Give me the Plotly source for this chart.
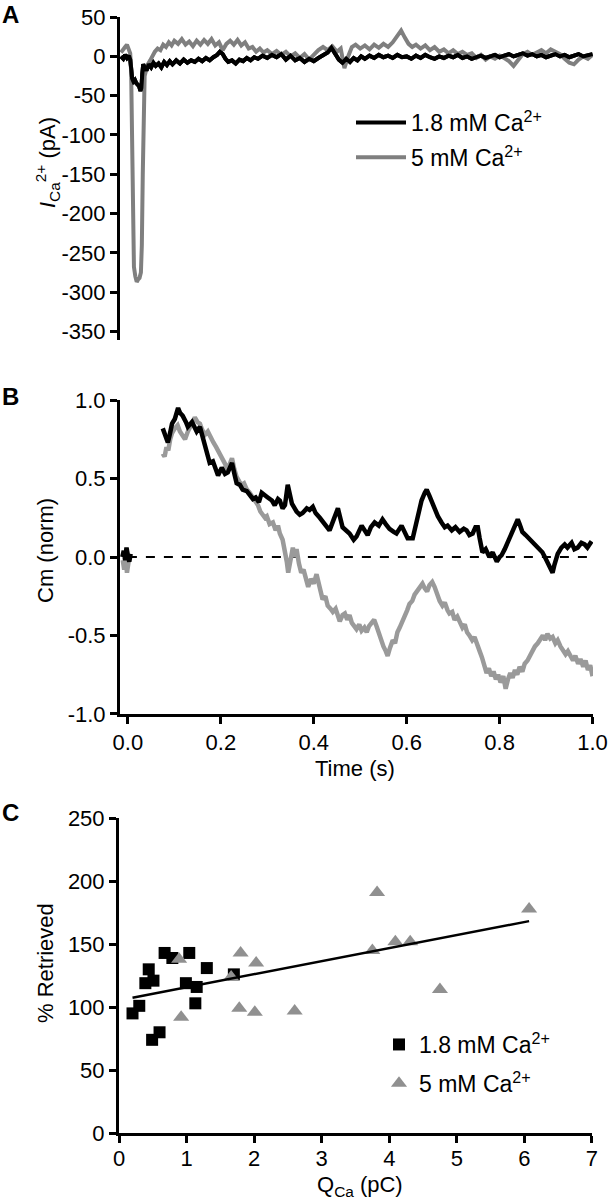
import plotly.graph_objects as go

# ---------------- Panel A data (time s, current pA) ----------------
a_gray_t = [-0.015,-0.010,-0.006,-0.002,0.002,0.005,0.007,0.009,0.011,0.013,0.016,0.019,0.022,0.025,0.028,0.030,0.032,0.034,0.036,0.039,0.043,0.048,0.053,0.058,0.064,0.070,0.076,0.082,0.088,0.094,0.100,0.108,0.116,0.124,0.132,0.140,0.148,0.156,0.164,0.172,0.180,0.188,0.196,0.204,0.212,0.220,0.228,0.236,0.244,0.252,0.260,0.268,0.276,0.284,0.292,0.300,0.310,0.320,0.330,0.340,0.350,0.360,0.370,0.380,0.390,0.400,0.410,0.420,0.430,0.440,0.450,0.458,0.466,0.474,0.482,0.490,0.500,0.510,0.520,0.530,0.540,0.550,0.560,0.570,0.580,0.588,0.596,0.604,0.612,0.620,0.630,0.640,0.650,0.660,0.670,0.680,0.690,0.700,0.710,0.720,0.730,0.740,0.750,0.760,0.770,0.780,0.790,0.800,0.810,0.820,0.830,0.840,0.850,0.860,0.870,0.880,0.890,0.900,0.910,0.920,0.930,0.940,0.950,0.960,0.970,0.980,0.990,1.000]
a_gray_v = [5,8,12,15,10,4,-20,-120,-230,-268,-280,-287,-284,-282,-275,-240,-150,-60,-25,-18,-10,-5,2,6,10,8,15,12,18,14,20,16,22,15,19,13,20,15,21,16,22,14,18,8,16,20,15,21,14,18,10,12,6,10,5,8,3,7,2,6,0,4,-2,3,-4,2,8,12,8,13,6,10,-15,0,12,15,10,14,9,15,11,16,12,18,26,33,24,16,12,15,10,14,8,12,6,9,4,8,3,6,2,4,-2,2,-4,0,-3,1,-2,-6,-12,-4,3,6,2,5,8,4,9,6,3,-3,-8,-10,-4,0,-3,2]

a_black_t = [-0.015,-0.010,-0.006,-0.002,0.002,0.005,0.007,0.009,0.012,0.015,0.018,0.021,0.024,0.027,0.029,0.031,0.033,0.036,0.040,0.045,0.050,0.055,0.060,0.066,0.072,0.078,0.084,0.090,0.096,0.104,0.112,0.120,0.128,0.136,0.144,0.152,0.160,0.168,0.176,0.184,0.192,0.198,0.204,0.210,0.216,0.224,0.232,0.240,0.248,0.256,0.264,0.272,0.280,0.290,0.300,0.310,0.320,0.330,0.340,0.350,0.360,0.370,0.380,0.390,0.400,0.410,0.420,0.430,0.438,0.446,0.454,0.462,0.470,0.478,0.486,0.494,0.502,0.510,0.520,0.530,0.540,0.550,0.560,0.570,0.580,0.590,0.600,0.610,0.620,0.630,0.640,0.650,0.660,0.670,0.680,0.690,0.700,0.710,0.720,0.730,0.740,0.750,0.760,0.770,0.780,0.790,0.800,0.810,0.820,0.830,0.840,0.850,0.860,0.870,0.880,0.890,0.900,0.910,0.920,0.930,0.940,0.950,0.960,0.970,0.980,0.990,1.000]
a_black_v = [0,-3,2,-2,1,-4,-15,-28,-32,-30,-34,-36,-38,-44,-40,-22,-10,-14,-18,-10,-14,-8,-12,-9,-14,-7,-11,-6,-10,-5,-9,-4,-8,-5,-7,-3,-6,-2,-5,-1,2,6,3,-3,-7,-5,-9,-4,-6,-2,-5,-1,-3,1,-2,2,-1,3,-4,1,-5,-2,-7,-3,-6,-2,1,5,11,3,-4,-8,-3,-7,-2,-5,0,-3,1,-2,2,-1,1,-2,2,-1,0,-3,1,-2,2,-1,-3,0,-2,1,-1,2,-2,0,-3,-1,1,-2,0,2,-1,1,3,0,2,4,1,3,0,2,-1,1,3,0,2,-1,1,3,0,2,3]

a_ticks = [50, 0, -50, -100, -150, -200, -250, -300, -350]
a_ticklabels = ["50", "0", "-50", "-100", "-150", "-200", "-250", "-300", "-350"]

# ---------------- Panel B data (time s, normalised Cm) ----------------
b_black_t = [-0.012,-0.009,-0.006,-0.003,0.000,0.003,0.006,None,
             0.075,0.080,0.086,0.090,0.095,0.101,0.108,0.112,0.118,0.125,0.129,0.138,0.144,0.148,0.155,0.161,0.166,0.172,0.176,0.183,0.187,0.194,0.202,0.209,0.215,0.224,0.230,0.234,0.241,0.247,0.256,0.262,0.269,0.275,0.282,0.288,0.295,0.301,0.310,0.316,0.323,0.327,0.333,0.338,0.344,0.348,0.353,0.359,0.363,0.370,0.376,0.385,0.391,0.398,0.404,0.413,0.424,0.434,0.443,0.452,0.462,0.469,0.477,0.486,0.492,0.503,0.510,0.516,0.523,0.531,0.540,0.548,0.555,0.563,0.572,0.578,0.589,0.596,0.602,0.613,0.619,0.624,0.632,0.639,0.643,0.649,0.654,0.660,0.667,0.675,0.682,0.688,0.697,0.705,0.714,0.723,0.729,0.735,0.742,0.748,0.753,0.757,0.763,0.770,0.778,0.785,0.794,0.800,0.804,0.811,0.817,0.824,0.832,0.839,0.843,0.849,0.856,0.865,0.871,0.880,0.886,0.892,0.899,0.908,0.914,0.918,0.925,0.933,0.940,0.946,0.955,0.961,0.968,0.976,0.983,0.989,0.998]
b_black_v = [0.00,0.04,-0.02,0.06,0.01,-0.03,0.02,None,
             0.82,0.78,0.73,0.78,0.85,0.88,0.95,0.92,0.90,0.86,0.83,0.86,0.82,0.80,0.83,0.76,0.70,0.64,0.60,0.61,0.57,0.52,0.57,0.53,0.54,0.60,0.52,0.47,0.46,0.43,0.42,0.40,0.37,0.38,0.35,0.41,0.39,0.38,0.36,0.33,0.37,0.36,0.31,0.33,0.46,0.40,0.34,0.31,0.29,0.27,0.28,0.31,0.30,0.32,0.28,0.25,0.21,0.17,0.24,0.31,0.19,0.17,0.15,0.11,0.13,0.20,0.16,0.14,0.19,0.22,0.20,0.24,0.21,0.18,0.16,0.15,0.20,0.15,0.12,0.12,0.20,0.28,0.36,0.41,0.43,0.39,0.35,0.31,0.26,0.22,0.19,0.20,0.17,0.19,0.16,0.18,0.17,0.14,0.15,0.19,0.19,0.12,0.03,0.05,0.00,0.03,-0.03,0.00,0.01,0.05,0.09,0.14,0.19,0.24,0.21,0.16,0.14,0.11,0.09,0.06,0.05,0.03,-0.01,-0.06,-0.10,-0.05,0.02,0.06,0.08,0.06,0.09,0.05,0.06,0.09,0.08,0.06,0.10]

b_gray_t = [-0.011,-0.008,-0.005,-0.002,0.001,0.004,None,
            0.075,0.079,0.083,0.087,0.091,0.095,0.101,0.107,0.112,0.118,0.123,0.129,0.135,0.140,0.144,0.150,0.155,0.160,0.166,0.172,0.178,0.184,0.190,0.196,0.202,0.208,0.215,0.220,0.224,0.229,0.234,0.240,0.245,0.250,0.256,0.262,0.269,0.275,0.280,0.285,0.290,0.295,0.299,0.305,0.312,0.318,0.323,0.327,0.333,0.338,0.342,0.345,0.348,0.352,0.355,0.359,0.363,0.368,0.373,0.378,0.383,0.388,0.394,0.400,0.406,0.412,0.419,0.425,0.430,0.436,0.441,0.447,0.452,0.456,0.462,0.467,0.472,0.477,0.482,0.487,0.492,0.498,0.503,0.509,0.514,0.519,0.524,0.530,0.535,0.540,0.545,0.550,0.555,0.559,0.564,0.570,0.575,0.580,0.585,0.590,0.596,0.601,0.606,0.612,0.617,0.622,0.628,0.634,0.639,0.644,0.649,0.655,0.660,0.666,0.671,0.677,0.682,0.688,0.692,0.698,0.703,0.709,0.714,0.720,0.725,0.730,0.735,0.741,0.746,0.751,0.757,0.762,0.767,0.772,0.777,0.782,0.787,0.792,0.797,0.802,0.808,0.813,0.818,0.823,0.828,0.833,0.838,0.843,0.849,0.854,0.860,0.865,0.871,0.876,0.882,0.887,0.893,0.898,0.903,0.909,0.914,0.920,0.925,0.931,0.936,0.942,0.947,0.953,0.958,0.963,0.969,0.974,0.980,0.985,0.990,0.995,1.000]
b_gray_v = [-0.02,-0.08,0.00,-0.10,-0.04,0.02,None,
            0.66,0.64,0.70,0.68,0.75,0.79,0.82,0.84,0.80,0.77,0.75,0.80,0.84,0.87,0.89,0.86,0.85,0.81,0.78,0.80,0.76,0.73,0.70,0.67,0.64,0.60,0.56,0.59,0.63,0.56,0.51,0.48,0.46,0.47,0.43,0.41,0.38,0.35,0.33,0.29,0.27,0.25,0.26,0.21,0.22,0.17,0.20,0.15,0.11,0.04,-0.03,-0.10,-0.04,0.04,0.06,0.00,0.05,-0.04,-0.10,-0.08,-0.15,-0.19,-0.14,-0.17,-0.11,-0.20,-0.27,-0.25,-0.31,-0.33,-0.35,-0.33,-0.39,-0.41,-0.37,-0.36,-0.40,-0.37,-0.42,-0.44,-0.46,-0.43,-0.47,-0.45,-0.48,-0.44,-0.42,-0.40,-0.44,-0.49,-0.53,-0.57,-0.60,-0.63,-0.58,-0.53,-0.55,-0.48,-0.45,-0.42,-0.37,-0.34,-0.30,-0.28,-0.24,-0.22,-0.19,-0.17,-0.20,-0.22,-0.18,-0.16,-0.19,-0.24,-0.28,-0.31,-0.29,-0.34,-0.36,-0.35,-0.40,-0.38,-0.42,-0.45,-0.43,-0.48,-0.50,-0.53,-0.51,-0.56,-0.60,-0.64,-0.70,-0.74,-0.71,-0.76,-0.73,-0.78,-0.75,-0.80,-0.76,-0.84,-0.78,-0.74,-0.77,-0.72,-0.75,-0.70,-0.73,-0.68,-0.66,-0.63,-0.60,-0.57,-0.55,-0.52,-0.50,-0.53,-0.49,-0.52,-0.51,-0.55,-0.53,-0.57,-0.59,-0.62,-0.60,-0.64,-0.66,-0.63,-0.68,-0.65,-0.70,-0.66,-0.72,-0.69,-0.76]

b_zero_t = [0.0, 1.0]
b_zero_v = [0.0, 0.0]
b_yticks = [1.0, 0.5, 0.0, -0.5, -1.0]
b_yticklabels = ["1.0", "0.5", "0.0", "-0.5", "-1.0"]
b_xticks = [0.0, 0.2, 0.4, 0.6, 0.8, 1.0]
b_xticklabels = ["0.0", "0.2", "0.4", "0.6", "0.8", "1.0"]

# ---------------- Panel C data (QCa pC, % retrieved) ----------------
c_sq_q = [0.20, 0.30, 0.44, 0.39, 0.51, 0.49, 0.60, 0.675, 0.79, 1.04, 0.99, 1.15, 1.13, 1.30, 1.70]
c_sq_v = [95, 101, 130, 119, 121, 74, 80, 143, 139, 143, 119, 116, 103, 131, 126]
c_tri_q = [0.89, 0.92, 1.66, 1.80, 1.78, 2.03, 2.01, 2.60, 3.82, 3.75, 4.09, 4.31, 4.75, 6.07]
c_tri_v = [138, 92, 124, 143, 99, 135, 96, 97, 191, 145, 152, 152, 114, 178]
c_fit_q = [0.20, 6.07]
c_fit_v = [107.5, 168.3]
c_xticks = [0, 1, 2, 3, 4, 5, 6, 7]
c_yticks = [0, 50, 100, 150, 200, 250]

FONT = "Liberation Sans, Arial, sans-serif"
W, H = 608, 1200
TICKFONT = 22

def px_x(p):
    return p / W

def px_y(p):
    return 1 - p / H

fig = go.Figure()

# Panel A
fig.add_trace(go.Scatter(x=a_black_t, y=a_black_v, mode="lines", line=dict(color="#000000", width=4),
                         name="1.8 mM Ca<sup>2+</sup>", xaxis="x", yaxis="y", legend="legend", legendgroup="a1"))
fig.add_trace(go.Scatter(x=a_gray_t, y=a_gray_v, mode="lines", line=dict(color="#7f7f7f", width=4),
                         name="5 mM Ca<sup>2+</sup>", xaxis="x", yaxis="y", legend="legend", legendgroup="a2"))
fig.add_trace(go.Scatter(x=a_black_t, y=a_black_v, mode="lines", line=dict(color="#000000", width=4),
                         showlegend=False, xaxis="x", yaxis="y", hoverinfo="skip"))

# Panel B
fig.add_trace(go.Scatter(x=b_zero_t, y=b_zero_v, mode="lines", line=dict(color="#000000", width=2.2, dash="dash"),
                         showlegend=False, xaxis="x2", yaxis="y2"))
fig.add_trace(go.Scatter(x=b_gray_t, y=b_gray_v, mode="lines", line=dict(color="#9a9a9a", width=4.5),
                         showlegend=False, xaxis="x2", yaxis="y2"))
fig.add_trace(go.Scatter(x=b_black_t, y=b_black_v, mode="lines", line=dict(color="#000000", width=4.5),
                         showlegend=False, xaxis="x2", yaxis="y2"))

# Panel C
fig.add_trace(go.Scatter(x=c_sq_q, y=c_sq_v, mode="markers",
                         marker=dict(symbol="square", size=12, color="#000000"),
                         name="1.8 mM Ca<sup>2+</sup>", xaxis="x3", yaxis="y3", legend="legend2", legendgroup="c1"))
fig.add_trace(go.Scatter(x=c_tri_q, y=c_tri_v, mode="markers",
                         marker=dict(symbol="triangle-up", size=14, color="#909090"),
                         name="5 mM Ca<sup>2+</sup>", xaxis="x3", yaxis="y3", legend="legend2", legendgroup="c2"))
fig.add_trace(go.Scatter(x=c_fit_q, y=c_fit_v, mode="lines", line=dict(color="#000000", width=2.5),
                         showlegend=False, xaxis="x3", yaxis="y3"))

axis_common = dict(showgrid=False, zeroline=False, showline=True, linecolor="#000000", linewidth=3,
                   ticks="outside", tickwidth=3, ticklen=7, tickcolor="#000000", automargin=False,
                   tickfont=dict(family=FONT, size=TICKFONT, color="#000000"))

fig.update_layout(
    template="none",
    width=W, height=H, autosize=False,
    margin=dict(l=0, r=0, t=0, b=0, pad=0),
    paper_bgcolor="white", plot_bgcolor="white",
    font=dict(family=FONT, size=TICKFONT, color="#000000"),
    xaxis=dict(domain=[px_x(120), px_x(593)], range=[-0.017, 1.001], visible=False, anchor="y", automargin=False),
    yaxis=dict(domain=[px_y(340), px_y(17)], range=[-361, 50.2], tickvals=a_ticks, ticktext=a_ticklabels,
               anchor="x", **axis_common),
    xaxis2=dict(domain=[px_x(120), px_x(593)], range=[-0.017, 1.001], tickvals=b_xticks, ticktext=b_xticklabels,
                anchor="y2", **axis_common),
    yaxis2=dict(domain=[px_y(714), px_y(400)], range=[-1.001, 1.001], tickvals=b_yticks, ticktext=b_yticklabels,
                anchor="x2", **axis_common),
    xaxis3=dict(domain=[px_x(119), px_x(592)], range=[0, 7.001], tickvals=c_xticks, anchor="y3",
                ticklabelstandoff=-3, **axis_common),
    yaxis3=dict(domain=[px_y(1133), px_y(818)], range=[0, 250.2], tickvals=c_yticks, anchor="x3", **axis_common),
    legend=dict(x=px_x(351), y=px_y(101), xanchor="left", yanchor="top", bgcolor="rgba(0,0,0,0)",
                font=dict(family=FONT, size=23), tracegroupgap=2, traceorder="grouped", itemwidth=50),
    legend2=dict(x=px_x(379), y=px_y(1023), xanchor="left", yanchor="top", bgcolor="rgba(0,0,0,0)",
                 font=dict(family=FONT, size=23), tracegroupgap=6, traceorder="grouped"),
    showlegend=True,
)

ann = [
    dict(text="<b>A</b>", x=px_x(0), y=px_y(14), xanchor="left", yanchor="middle", font=dict(size=24)),
    dict(text="<b>B</b>", x=px_x(0), y=px_y(396), xanchor="left", yanchor="middle", font=dict(size=24)),
    dict(text="<b>C</b>", x=px_x(0), y=px_y(812), xanchor="left", yanchor="middle", font=dict(size=24)),
    dict(text="<i>I</i><sub>Ca</sub><sup>2+</sup> (pA)", x=px_x(47), y=px_y(163), textangle=-90,
         xanchor="center", yanchor="middle", font=dict(size=22)),
    dict(text="Cm (norm)", x=px_x(45), y=px_y(551), textangle=-90, xanchor="center", yanchor="middle",
         font=dict(size=22)),
    dict(text="Time (s)", x=px_x(355), y=px_y(768), xanchor="center", yanchor="middle", font=dict(size=22)),
    dict(text="% Retrieved", x=px_x(45), y=px_y(963), textangle=-90, xanchor="center", yanchor="middle",
         font=dict(size=22)),
    dict(text="Q<sub>Ca</sub> (pC)", x=px_x(360), y=px_y(1186), xanchor="center", yanchor="middle",
         font=dict(size=22)),
]
for a in ann:
    a.update(xref="paper", yref="paper", showarrow=False)
    a["font"] = dict(family=FONT, color="#000000", **a["font"])
fig.update_layout(annotations=ann)

fig.write_html("out.html", config={"displayModeBar": False},
               post_script="document.body.style.margin='0';document.body.style.overflow='hidden';")
